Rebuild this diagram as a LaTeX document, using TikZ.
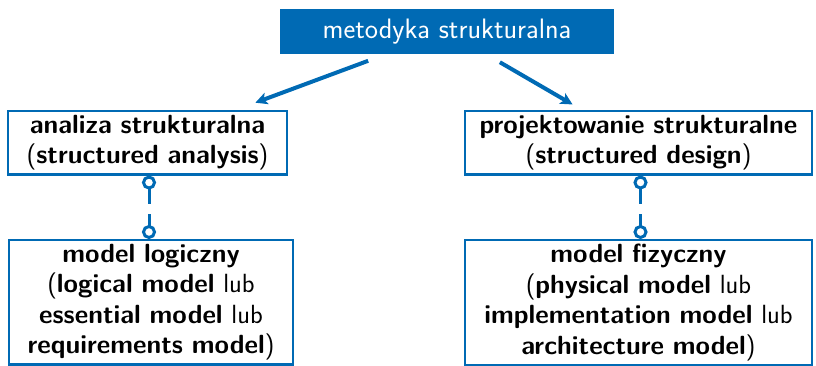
\documentclass[tikz,border=0pt]{standalone}
\usepackage{fontspec}
\usetikzlibrary{arrows.meta}
\definecolor{sblue}{RGB}{0,106,180}
\begin{document}
\begin{tikzpicture}[x=1pt,y=-1pt,
  font=\sffamily\fontsize{26.3}{30.5}\selectfont,
  head/.style={fill=sblue,text=white,minimum width=334pt,minimum height=45pt,inner sep=0pt,
    font=\sffamily\fontsize{28.1}{30.5}\selectfont},
  box/.style={draw=sblue,line width=2.2pt,align=center,anchor=north,inner xsep=0pt,inner ysep=4pt},
  flow/.style={draw=sblue,line width=4pt,-{Stealth[length=12pt,width=12pt,inset=3pt]}},
  link/.style={draw=sblue,line width=3pt,dash pattern=on 16pt off 10pt,
    {Circle[open,length=14pt,width=14pt]}-{Circle[open,length=14pt,width=14pt]}}
]
\useasboundingbox (0,0) rectangle (816,366);
\clip (0,0) rectangle (816,366);

% methodology and its two branches
\node[head] (top) at (447,31.5) {metodyka strukturalna};
\node[box,text width=279pt] (sa) at (147.5,110)
  {\textbf{analiza strukturalna}\\
   (\textbf{structured analysis})};
\node[box,text width=347pt] (sd) at (638.5,110)
  {\textbf{projektowanie strukturalne}\\
   (\textbf{structured design})};

% resulting models
\node[box,text width=284pt] (ml) at (151,239)
  {\textbf{model logiczny}\\
   (\textbf{logical model} lub\\
   \textbf{essential model} lub\\
   \textbf{requirements model})};
\node[box,text width=347pt] (mf) at (638.5,239)
  {\textbf{model fizyczny}\\
   (\textbf{physical model} lub\\
   \textbf{implementation model} lub\\
   \textbf{architecture model})};

% connectors
\draw[flow,shorten <=19pt,shorten >=21pt] (top) -- (sa);
\draw[flow,shorten <=16pt,shorten >=11pt] (top) -- (sd);
\draw[link] (sa.south -| 149,0) -- (ml.north -| 149,0);
\draw[link] (sd.south -| 640.5,0) -- (mf.north -| 640.5,0);
\end{tikzpicture}
\end{document}
